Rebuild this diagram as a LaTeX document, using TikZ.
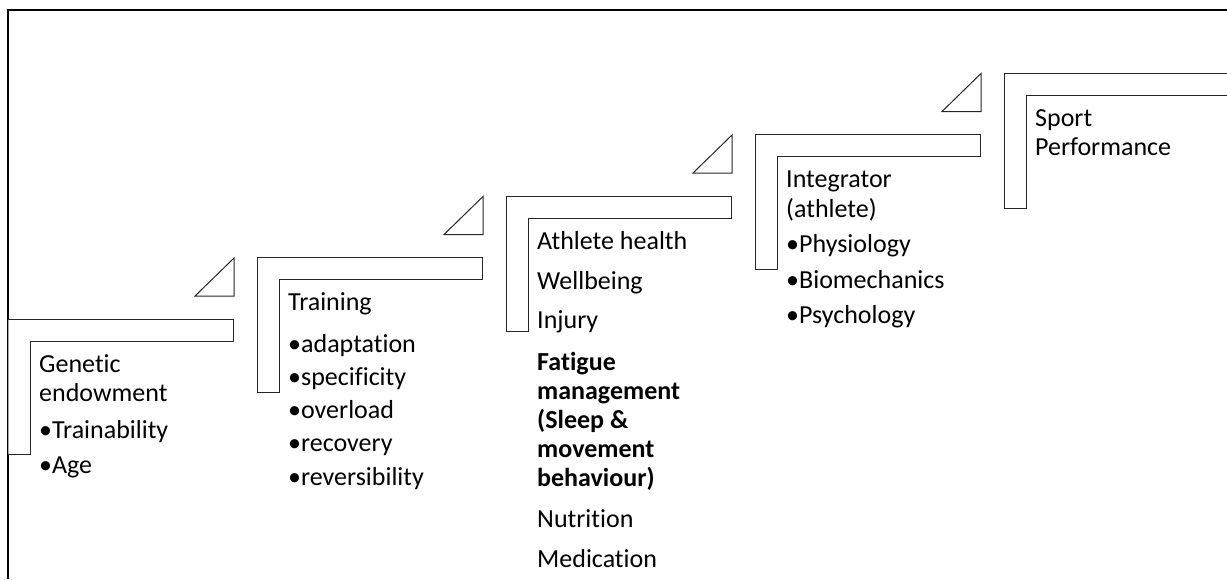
\documentclass[tikz,border=0pt]{standalone}
\usepackage{fontspec}
\setmainfont[Ligatures=NoCommon]{Carlito}
\begin{document}
\begin{tikzpicture}[x=1pt,y=-1pt,
  frame/.style={line width=2pt,black},
  lshape/.style={draw=black!85,line width=1pt,fill=white,line join=miter},
  tri/.style={draw=black!85,line width=1pt,line join=miter},
  txt/.style={anchor=base west,inner sep=0pt,font=\fontsize{26}{29}\selectfont,text=black},
  btxt/.style={txt,font=\fontsize{26}{29}\selectfont\bfseries}]
\useasboundingbox (0,0) rectangle (1227,579);
% frame
\coordinate (fb) at (8.3,579);
\coordinate (ftl) at (8.3,9.7);
\coordinate (fr) at (1227,9.7);
\draw[frame] (fb) -- (ftl) -- (fr);
% L shapes
\draw[lshape] (8.3,319) -- (233,319) -- (233,341) -- (30,341) -- (30,454) -- (8.3,454);
\draw[lshape] (257,257.5) -- (482,257.5) -- (482,279.5) -- (279,279.5) -- (279,392.5) -- (257,392.5) -- cycle;
\draw[lshape] (506,196) -- (731,196) -- (731,218) -- (528,218) -- (528,331) -- (506,331) -- cycle;
\draw[lshape] (755,134.5) -- (980,134.5) -- (980,156.5) -- (777,156.5) -- (777,269.5) -- (755,269.5) -- cycle;
\draw[lshape] (1228,73) -- (1004,73) -- (1004,208) -- (1026,208) -- (1026,95) -- (1228,95);
% triangles
\draw[tri] (195,296) -- (234,258) -- (234,296) -- cycle;
\draw[tri] (444,234.5) -- (483,196.5) -- (483,234.5) -- cycle;
\draw[tri] (693,173) -- (732,135) -- (732,173) -- cycle;
\draw[tri] (942,111.5) -- (981,73.5) -- (981,111.5) -- cycle;
% texts step 1
\node[txt] (g1) at (39,372) {Genetic};
\node[txt] (g2) at (39,401) {endowment};
\node[txt] (g3) at (39,438) {•Trainability};
\node[txt] (g4) at (39,473) {•Age};
% step 2
\node[txt] (t1) at (288,310.5) {Training};
\node[txt] (t2) at (288,352) {•adaptation};
\node[txt] (t3) at (288,385) {•specificity};
\node[txt] (t4) at (288,418) {•overload};
\node[txt] (t5) at (288,451) {•recovery};
\node[txt] (t6) at (288,485) {•reversibility};
% step 3
\node[txt] (a1) at (537,249) {Athlete health};
\node[txt] (a2) at (537,289) {Wellbeing};
\node[txt] (a3) at (537,328) {Injury};
\node[btxt] (a4) at (537,370) {Fatigue};
\node[btxt] (a5) at (537,399) {management};
\node[btxt] (a6) at (537,428) {(Sleep \&};
\node[btxt] (a7) at (537,457) {movement};
\node[btxt] (a8) at (537,486) {behaviour)};
\node[txt] (a9) at (537,527) {Nutrition};
\node[txt] (a10) at (537,567) {Medication};
% step 4
\node[txt] (i1) at (786,187.5) {Integrator};
\node[txt] (i2) at (786,217) {(athlete)};
\node[txt] (i3) at (786,252) {•Physiology};
\node[txt] (i4) at (786,288) {•Biomechanics};
\node[txt] (i5) at (786,323) {•Psychology};
% step 5
\node[txt] (s1) at (1035,126) {Sport};
\node[txt] (s2) at (1035,155) {Performance};
\end{tikzpicture}
\end{document}
